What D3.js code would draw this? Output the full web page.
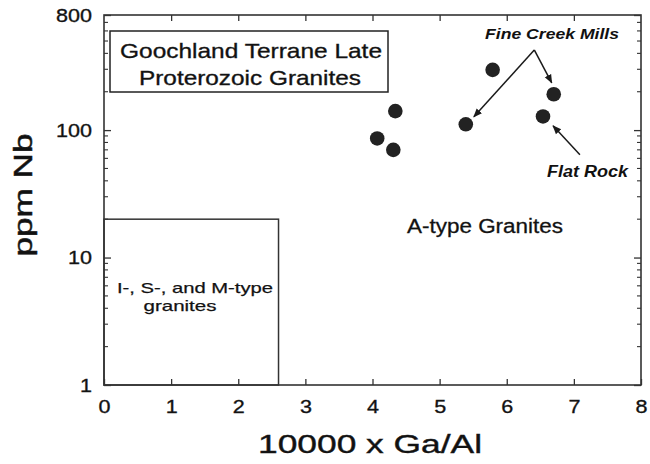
<!DOCTYPE html>
<html>
<head>
<meta charset="utf-8">
<script src="https://cdn.jsdelivr.net/npm/d3@7"></script>
<style>
  html, body { margin: 0; padding: 0; background: #fff; }
  svg { display: block; }
  text { font-family: "Liberation Sans", Arial, Helvetica, sans-serif; fill: #111; }
</style>
</head>
<body>
<svg id="chart" width="650" height="464"></svg>
<script>
// ---- data ----
const gaAl = [5.79, 6.70, 6.54, 5.39, 4.34, 4.07, 4.31];
const nb   = [297, 191, 128, 111, 141, 86, 70];
const xTickValues = [0, 1, 2, 3, 4, 5, 6, 7, 8];
const yTickValues = [1, 10, 100, 800];
const yTickLabels = ["1", "10", "100", "800"];
const fieldBoundaryX = 2.6;   // I-, S-, M-type field limit on 10000 x Ga/Al
const fieldBoundaryY = 20;    // I-, S-, M-type field limit on ppm Nb

const svg = d3.select("#chart");
const x = d3.scaleLinear().domain([0, 8]).range([104, 641]);
const y = d3.scaleLog().domain([1, 800]).range([385, 15]);
const ink = "#1a1a1a";

// Frame
svg.append("rect")
  .attr("x", x(0)).attr("y", y(800))
  .attr("width", x(8) - x(0)).attr("height", y(1) - y(800))
  .attr("fill", "none").attr("stroke", "#333").attr("stroke-width", 1.6);

// Axes
function styleAxis(g) {
  g.select(".domain").remove();
  g.selectAll(".tick line").attr("stroke", "#333").attr("stroke-width", 1.3);
  g.selectAll(".tick text").attr("font-size", 19).attr("fill", ink)
    .attr("stroke", ink).attr("stroke-width", 0.35)
    .attr("font-family", "Liberation Sans, Arial, sans-serif")
    .attr("textLength", function () { return this.textContent.length * 12; })
    .attr("lengthAdjust", "spacingAndGlyphs");
}
svg.append("g").attr("transform", `translate(0,${y(1)})`)
  .call(d3.axisBottom(x).tickValues(xTickValues).tickFormat(d3.format("d"))
        .tickSizeInner(-6).tickSizeOuter(0).tickPadding(15))
  .call(styleAxis);
svg.append("g").attr("transform", `translate(0,${y(800)})`)
  .call(d3.axisTop(x).tickValues(xTickValues.slice(1, -1)).tickFormat("")
        .tickSizeInner(-6).tickSizeOuter(0))
  .call(styleAxis);
svg.append("g").attr("transform", `translate(${x(0)},0)`)
  .call(d3.axisLeft(y).tickValues(yTickValues).tickFormat((d, i) => yTickLabels[i])
        .tickSizeInner(-7).tickSizeOuter(0).tickPadding(12))
  .call(styleAxis);
svg.append("g").attr("transform", `translate(${x(8)},0)`)
  .call(d3.axisRight(y).tickValues(yTickValues).tickFormat("")
        .tickSizeInner(-7).tickSizeOuter(0))
  .call(styleAxis);

// Minor log ticks (left and right)
const minor = [];
[1, 10, 100].forEach(p => { for (let k = 2; k <= 9; k++) { const v = k * p; if (v < 800) minor.push(v); } });
[[x(0), 4], [x(8), -4]].forEach(([x0, len]) => {
  svg.append("g").selectAll("line").data(minor).join("line")
    .attr("x1", x0).attr("x2", x0 + len)
    .attr("y1", d => y(d)).attr("y2", d => y(d))
    .attr("stroke", "#333").attr("stroke-width", 1.1);
});

// I-, S-, M-type field box
svg.append("rect")
  .attr("x", x(0)).attr("y", y(fieldBoundaryY))
  .attr("width", x(fieldBoundaryX) - x(0)).attr("height", y(1) - y(fieldBoundaryY))
  .attr("fill", "none").attr("stroke", "#333").attr("stroke-width", 1.5);

// Helper for text with fitted width
function label(txt, cx, by, size, len, opts = {}) {
  const t = svg.append("text")
    .attr("x", cx).attr("y", by)
    .attr("font-size", size)
    .attr("text-anchor", opts.anchor || "middle")
    .attr("textLength", len).attr("lengthAdjust", "spacingAndGlyphs")
    .text(txt);
  if (opts.weight) t.attr("font-weight", opts.weight);
  if (opts.style) t.attr("font-style", opts.style);
  if (opts.transform) t.attr("transform", opts.transform);
  if (opts.heavy) t.attr("stroke", ink).attr("stroke-width", opts.heavy);
  return t;
}

label("I-, S-, and M-type", 195, 293, 15, 156, { heavy: 0.25 });
label("granites", 180, 311, 15, 73, { heavy: 0.25 });
label("A-type Granites", 485, 233, 20, 156, { heavy: 0.3 });

// Title box
svg.append("rect").attr("x", 110).attr("y", 31).attr("width", 278).attr("height", 61)
  .attr("fill", "#fff").attr("stroke", "#222").attr("stroke-width", 1.5);
label("Goochland Terrane Late", 251, 58, 21, 262, { heavy: 0.35 });
label("Proterozoic Granites", 250, 85, 21, 222, { heavy: 0.35 });

// Annotations
label("Fine Creek Mills", 485, 39, 15.5, 134, { anchor: "start", weight: "bold", style: "italic" });
label("Flat Rock", 547, 177, 16, 81, { anchor: "start", weight: "bold", style: "italic" });

svg.append("defs").append("marker")
  .attr("id", "ah").attr("viewBox", "0 0 10 10").attr("refX", 9).attr("refY", 5)
  .attr("markerWidth", 9).attr("markerHeight", 9).attr("markerUnits", "userSpaceOnUse")
  .attr("orient", "auto")
  .append("path").attr("d", "M0,1 L10,5 L0,9 Z").attr("fill", ink);

const arrows = [
  [6.41, 426, 5.51, 127],
  [6.41, 426, 6.67, 235],
  [7.09, 64, 6.69, 108]
];
svg.append("g").selectAll("line").data(arrows).join("line")
  .attr("x1", d => x(d[0])).attr("y1", d => y(d[1]))
  .attr("x2", d => x(d[2])).attr("y2", d => y(d[3]))
  .attr("stroke", ink).attr("stroke-width", 1.5)
  .attr("marker-end", "url(#ah)");

// Data points
svg.append("g").selectAll("circle").data(gaAl).join("circle")
  .attr("cx", d => x(d)).attr("cy", (d, i) => y(nb[i]))
  .attr("r", 7.3).attr("fill", "#222");

// Axis titles
label("10000 x Ga/Al", 370, 453, 25, 224, { heavy: 0.4 });
label("ppm Nb", 0, 0, 26, 123, { transform: "translate(31.5,195) rotate(-90)", heavy: 0.5 });
</script>
</body>
</html>
